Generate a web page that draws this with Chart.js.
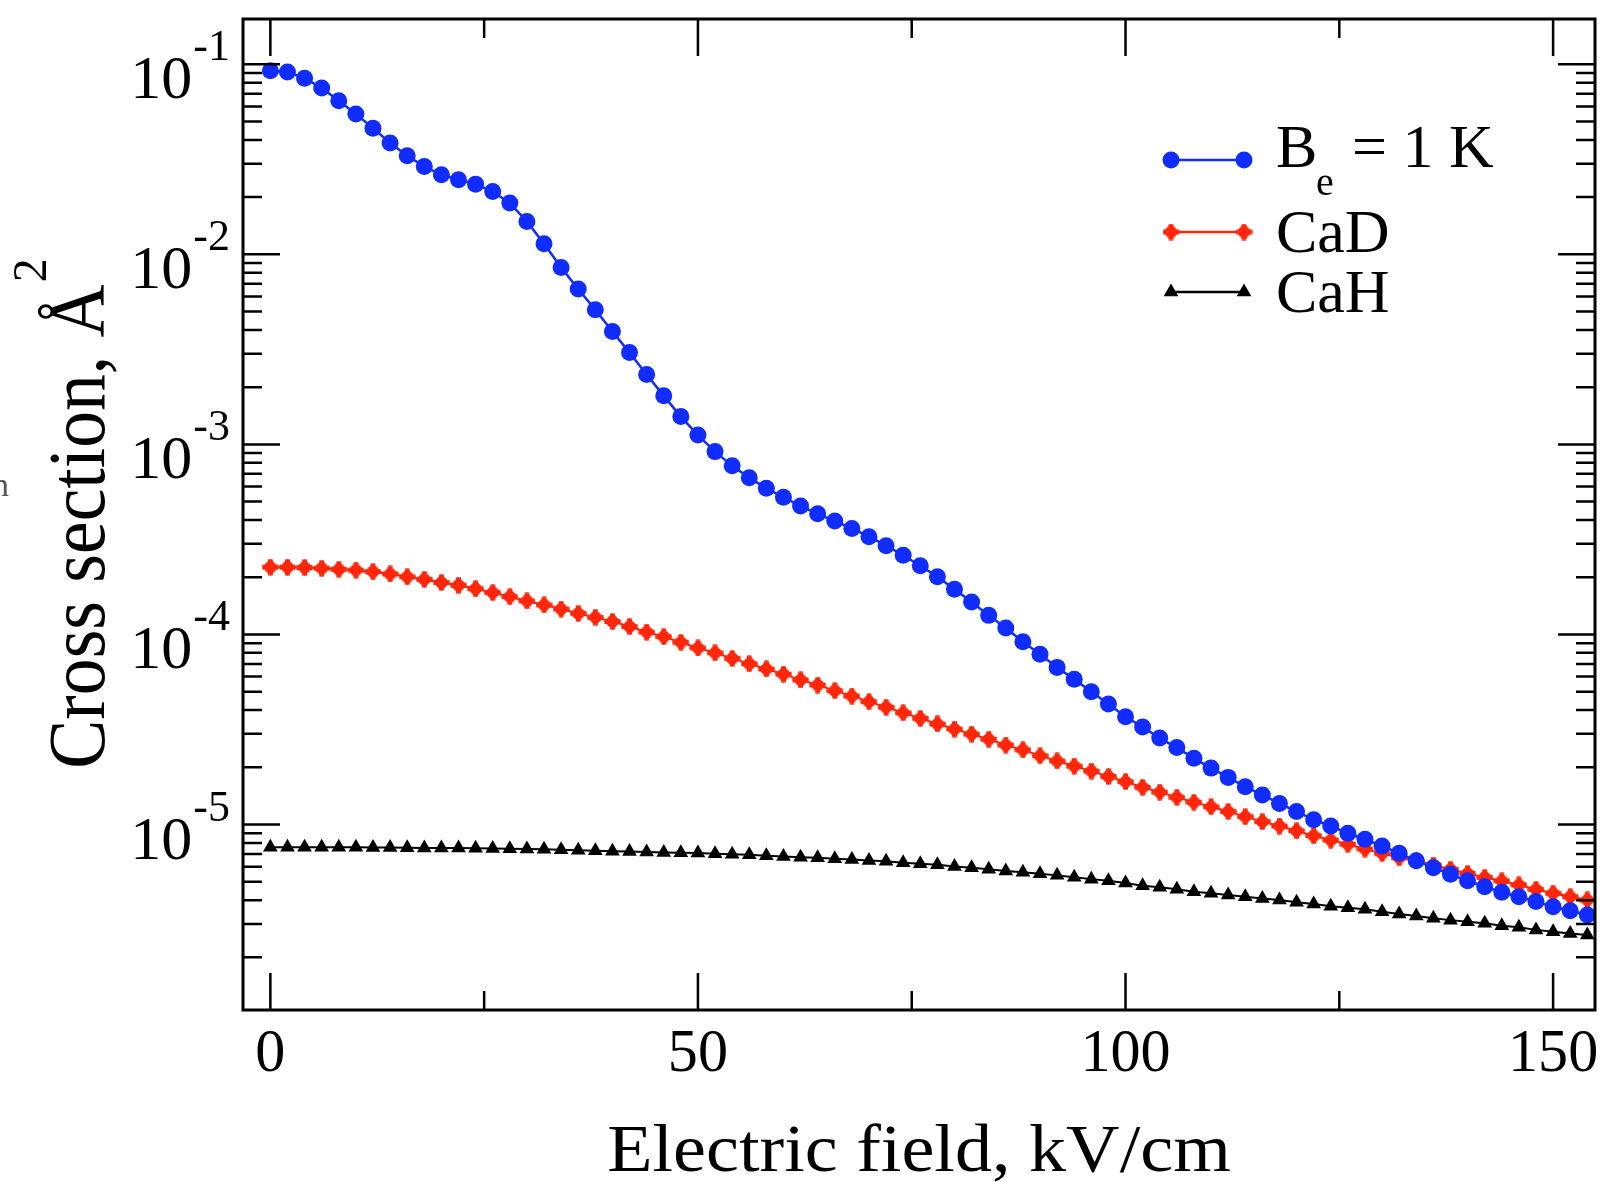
<!DOCTYPE html>
<html>
<head>
<meta charset="utf-8">
<script src="https://cdn.jsdelivr.net/npm/chart.js@4.4.0/dist/chart.umd.min.js"></script>
<style>
  html, body { margin: 0; padding: 0; background: #fff; }
  canvas { display: block; }
</style>
</head>
<body>
<canvas id="xsec" width="1605" height="1182"></canvas>
<script>
// electric field, kV/cm
const fields = [0, 2, 4, 6, 8, 10, 12, 14, 16, 18, 20, 22, 24, 26, 28, 30, 32, 34, 36, 38,
  40, 42, 44, 46, 48, 50, 52, 54, 56, 58, 60, 62, 64, 66, 68, 70, 72, 74, 76, 78,
  80, 82, 84, 86, 88, 90, 92, 94, 96, 98, 100, 102, 104, 106, 108, 110, 112, 114, 116, 118,
  120, 122, 124, 126, 128, 130, 132, 134, 136, 138, 140, 142, 144, 146, 148, 150, 152, 154];

// cross sections, A^2
const beValues = [9.25e-2, 9.10e-2, 8.45e-2, 7.50e-2, 6.43e-2, 5.48e-2, 4.61e-2, 3.85e-2, 3.30e-2, 2.90e-2,
  2.62e-2, 2.47e-2, 2.34e-2, 2.14e-2, 1.86e-2, 1.49e-2, 1.135e-2, 8.53e-3, 6.56e-3, 5.11e-3,
  3.93e-3, 3.04e-3, 2.33e-3, 1.80e-3, 1.40e-3, 1.12e-3, 9.16e-4, 7.71e-4, 6.68e-4, 5.87e-4,
  5.27e-4, 4.74e-4, 4.31e-4, 3.95e-4, 3.61e-4, 3.27e-4, 2.93e-4, 2.61e-4, 2.30e-4, 2.01e-4,
  1.73e-4, 1.48e-4, 1.26e-4, 1.08e-4, 9.16e-5, 7.87e-5, 6.71e-5, 5.81e-5, 5.00e-5, 4.31e-5,
  3.69e-5, 3.26e-5, 2.85e-5, 2.54e-5, 2.23e-5, 1.98e-5, 1.77e-5, 1.58e-5, 1.43e-5, 1.29e-5,
  1.17e-5, 1.06e-5, 9.82e-6, 8.99e-6, 8.36e-6, 7.71e-6, 7.05e-6, 6.44e-6, 5.93e-6, 5.47e-6,
  5.06e-6, 4.71e-6, 4.40e-6, 4.17e-6, 3.93e-6, 3.69e-6, 3.52e-6, 3.34e-6];

const cadValues = [2.26e-4, 2.26e-4, 2.25e-4, 2.23e-4, 2.20e-4, 2.18e-4, 2.14e-4, 2.08e-4, 2.01e-4, 1.95e-4,
  1.875e-4, 1.815e-4, 1.74e-4, 1.66e-4, 1.58e-4, 1.50e-4, 1.43e-4, 1.36e-4, 1.29e-4, 1.23e-4,
  1.17e-4, 1.10e-4, 1.03e-4, 9.73e-5, 9.10e-5, 8.49e-5, 8.00e-5, 7.48e-5, 7.01e-5, 6.58e-5,
  6.18e-5, 5.77e-5, 5.42e-5, 5.06e-5, 4.74e-5, 4.43e-5, 4.14e-5, 3.87e-5, 3.62e-5, 3.38e-5,
  3.18e-5, 2.99e-5, 2.81e-5, 2.62e-5, 2.47e-5, 2.30e-5, 2.16e-5, 2.03e-5, 1.91e-5, 1.79e-5,
  1.68e-5, 1.57e-5, 1.48e-5, 1.39e-5, 1.31e-5, 1.24e-5, 1.17e-5, 1.10e-5, 1.035e-5, 9.82e-6,
  9.27e-6, 8.73e-6, 8.28e-6, 7.87e-6, 7.43e-6, 7.05e-6, 6.68e-6, 6.43e-6, 6.12e-6, 5.81e-6,
  5.53e-6, 5.27e-6, 5.05e-6, 4.81e-6, 4.56e-6, 4.35e-6, 4.17e-6, 4.01e-6];

const cahValues = [7.59e-6, 7.59e-6, 7.59e-6, 7.59e-6, 7.59e-6, 7.59e-6, 7.57e-6, 7.57e-6, 7.55e-6, 7.53e-6,
  7.53e-6, 7.52e-6, 7.50e-6, 7.48e-6, 7.46e-6, 7.43e-6, 7.40e-6, 7.36e-6, 7.31e-6, 7.28e-6,
  7.24e-6, 7.21e-6, 7.16e-6, 7.13e-6, 7.10e-6, 7.08e-6, 7.01e-6, 6.97e-6, 6.93e-6, 6.85e-6,
  6.79e-6, 6.73e-6, 6.68e-6, 6.61e-6, 6.55e-6, 6.47e-6, 6.40e-6, 6.30e-6, 6.21e-6, 6.14e-6,
  6.01e-6, 5.92e-6, 5.82e-6, 5.70e-6, 5.61e-6, 5.51e-6, 5.40e-6, 5.28e-6, 5.16e-6, 5.06e-6,
  4.92e-6, 4.76e-6, 4.67e-6, 4.56e-6, 4.43e-6, 4.35e-6, 4.26e-6, 4.17e-6, 4.08e-6, 4.01e-6,
  3.90e-6, 3.82e-6, 3.72e-6, 3.65e-6, 3.58e-6, 3.48e-6, 3.38e-6, 3.30e-6, 3.21e-6, 3.14e-6,
  3.08e-6, 3.02e-6, 2.93e-6, 2.88e-6, 2.79e-6, 2.73e-6, 2.67e-6, 2.62e-6];

// axis ticks
const xMajor = [0, 50, 100, 150];
const xTickLabels = ['0', '50', '100', '150'];
const xMinor = [25, 75, 125];
const yMajor = [1e-1, 1e-2, 1e-3, 1e-4, 1e-5];
const yTickExps = ['-1', '-2', '-3', '-4', '-5'];
const yMinorMantissas = [2, 3, 4, 5, 6, 7, 8, 9];
const yMinorDecades = [1e-6, 1e-5, 1e-4, 1e-3, 1e-2, 1e-1];

const BLUE = 'rgb(16,44,255)';
const RED = 'rgb(255,38,10)';
const BLACK = '#000';
const serif = '"Liberation Serif", "Times New Roman", Times, serif';

// fat plus / diamond marker used for CaD
function plusMarker(color) {
  const c = document.createElement('canvas');
  c.width = 17; c.height = 17;
  const g = c.getContext('2d');
  g.fillStyle = color;
  g.beginPath();
  g.moveTo(8.5, 0); g.lineTo(17, 8.5); g.lineTo(8.5, 17); g.lineTo(0, 8.5);
  g.closePath();
  g.fill();
  g.fillRect(6, 0.5, 5, 16);
  g.fillRect(0.5, 6, 16, 5);
  return c;
}
const redMark = plusMarker(RED);

function pts(vals) {
  return fields.map((f, i) => ({ x: f, y: vals[i] }));
}

function drawText(ctx, str, x, y, size, opts = {}) {
  ctx.save();
  ctx.translate(x, y);
  if (opts.rot) ctx.rotate(opts.rot);
  ctx.scale(opts.sx || 1, 1);
  ctx.font = size + 'px ' + serif;
  ctx.textAlign = opts.align || 'left';
  ctx.textBaseline = 'alphabetic';
  ctx.fillStyle = opts.color || '#000';
  ctx.fillText(str, 0, 0);
  ctx.restore();
}

function textWidth(ctx, str, size, sx = 1) {
  ctx.save();
  ctx.font = size + 'px ' + serif;
  const w = ctx.measureText(str).width * sx;
  ctx.restore();
  return w;
}

const frame = {
  id: 'frame',
  afterDraw(chart) {
    const { ctx, chartArea: a, scales: { x, y } } = chart;
    ctx.save();
    ctx.strokeStyle = '#000';
    ctx.lineWidth = 2.5;
    ctx.beginPath();
    const xTick = (v, len) => {
      const px = x.getPixelForValue(v);
      ctx.moveTo(px, a.bottom); ctx.lineTo(px, a.bottom - len);
      ctx.moveTo(px, a.top); ctx.lineTo(px, a.top + len);
    };
    const yTick = (v, len) => {
      const py = y.getPixelForValue(v);
      if (py < a.top || py > a.bottom) return;
      ctx.moveTo(a.left, py); ctx.lineTo(a.left + len, py);
      ctx.moveTo(a.right, py); ctx.lineTo(a.right - len, py);
    };
    xMajor.forEach(v => xTick(v, 37));
    xMinor.forEach(v => xTick(v, 19));
    yMajor.forEach(v => yTick(v, 37));
    yMinorDecades.forEach(d => yMinorMantissas.forEach(m => yTick(m * d, 19)));
    ctx.stroke();

    ctx.lineWidth = 3;
    ctx.strokeRect(a.left, a.top, a.right - a.left, a.bottom - a.top);
    ctx.restore();

    // x tick labels
    xMajor.forEach((v, i) => {
      drawText(ctx, xTickLabels[i], x.getPixelForValue(v), a.bottom + 61, 62, { align: 'center', sx: 0.97 });
    });

    // y tick labels 10^n
    const right = 230;
    yMajor.forEach((v, i) => {
      const py = y.getPixelForValue(v);
      const sw = textWidth(ctx, yTickExps[i], 44);
      drawText(ctx, yTickExps[i], right - sw, py - 4, 44);
      const bw = textWidth(ctx, '10', 62);
      drawText(ctx, '10', right - sw - bw - 1, py + 34, 62);
    });

    // axis titles
    drawText(ctx, 'Electric field, kV/cm', (a.left + a.right) / 2, 1171, 68, { align: 'center', sx: 1.09 });

    const main = 'Cross section, \u00C5';
    const w1 = textWidth(ctx, main, 80, 0.92);
    const w2 = textWidth(ctx, '2', 48);
    const cy = (a.top + a.bottom) / 2;
    ctx.save();
    ctx.translate(104, cy);
    ctx.rotate(-Math.PI / 2);
    drawText(ctx, main, -(w1 + w2) / 2, 0, 80, { sx: 0.92 });
    drawText(ctx, '2', -(w1 + w2) / 2 + w1 + 2, -58, 48);
    ctx.restore();

    // stray glyph at far left of the original figure
    drawText(ctx, 'n', -8, 496, 34, { color: '#555' });

    // legend
    const rows = [
      { ds: 0, y: 160 },
      { ds: 1, y: 232 },
      { ds: 2, y: 292 }
    ];
    const x1 = 1171, x2 = 1244;
    rows.forEach(r => {
      const ds = chart.data.datasets[r.ds];
      ctx.save();
      ctx.strokeStyle = ds.borderColor;
      ctx.fillStyle = ds.backgroundColor;
      ctx.lineWidth = 2.5;
      ctx.beginPath();
      ctx.moveTo(x1, r.y); ctx.lineTo(x2, r.y);
      ctx.stroke();
      const opt = { pointStyle: ds.pointStyle, radius: ds.pointRadius, rotation: 0, borderWidth: 0 };
      Chart.helpers.drawPoint(ctx, opt, x1, r.y);
      Chart.helpers.drawPoint(ctx, opt, x2, r.y);
      ctx.restore();
    });
    drawText(ctx, 'B', 1276, 167, 62);
    drawText(ctx, 'e', 1316, 195, 40);
    drawText(ctx, '= 1 K', 1352, 167, 62);
    drawText(ctx, 'CaD', 1276, 252, 62);
    drawText(ctx, 'CaH', 1276, 312, 62);
  }
};

new Chart(document.getElementById('xsec'), {
  type: 'line',
  data: {
    datasets: [
      {
        label: 'Be = 1 K', data: pts(beValues),
        borderColor: BLUE, backgroundColor: BLUE, borderWidth: 2.5,
        pointStyle: 'circle', pointRadius: 8.5, pointBorderWidth: 0
      },
      {
        label: 'CaD', data: pts(cadValues),
        borderColor: RED, backgroundColor: RED, borderWidth: 2,
        pointStyle: redMark, pointRadius: 7, pointBorderWidth: 0
      },
      {
        label: 'CaH', data: pts(cahValues),
        borderColor: BLACK, backgroundColor: BLACK, borderWidth: 2,
        pointStyle: 'triangle', pointRadius: 8.5, pointBorderWidth: 0
      }
    ]
  },
  options: {
    responsive: false,
    animation: false,
    events: [],
    layout: { padding: { left: 243, right: 10, top: 19, bottom: 172 } },
    plugins: { legend: { display: false }, tooltip: { enabled: false } },
    scales: {
      x: { type: 'linear', min: -3.2, max: 154.9, display: false },
      y: { type: 'logarithmic', min: 1.057e-6, max: 0.173, display: false }
    }
  },
  plugins: [frame]
});
</script>
</body>
</html>
